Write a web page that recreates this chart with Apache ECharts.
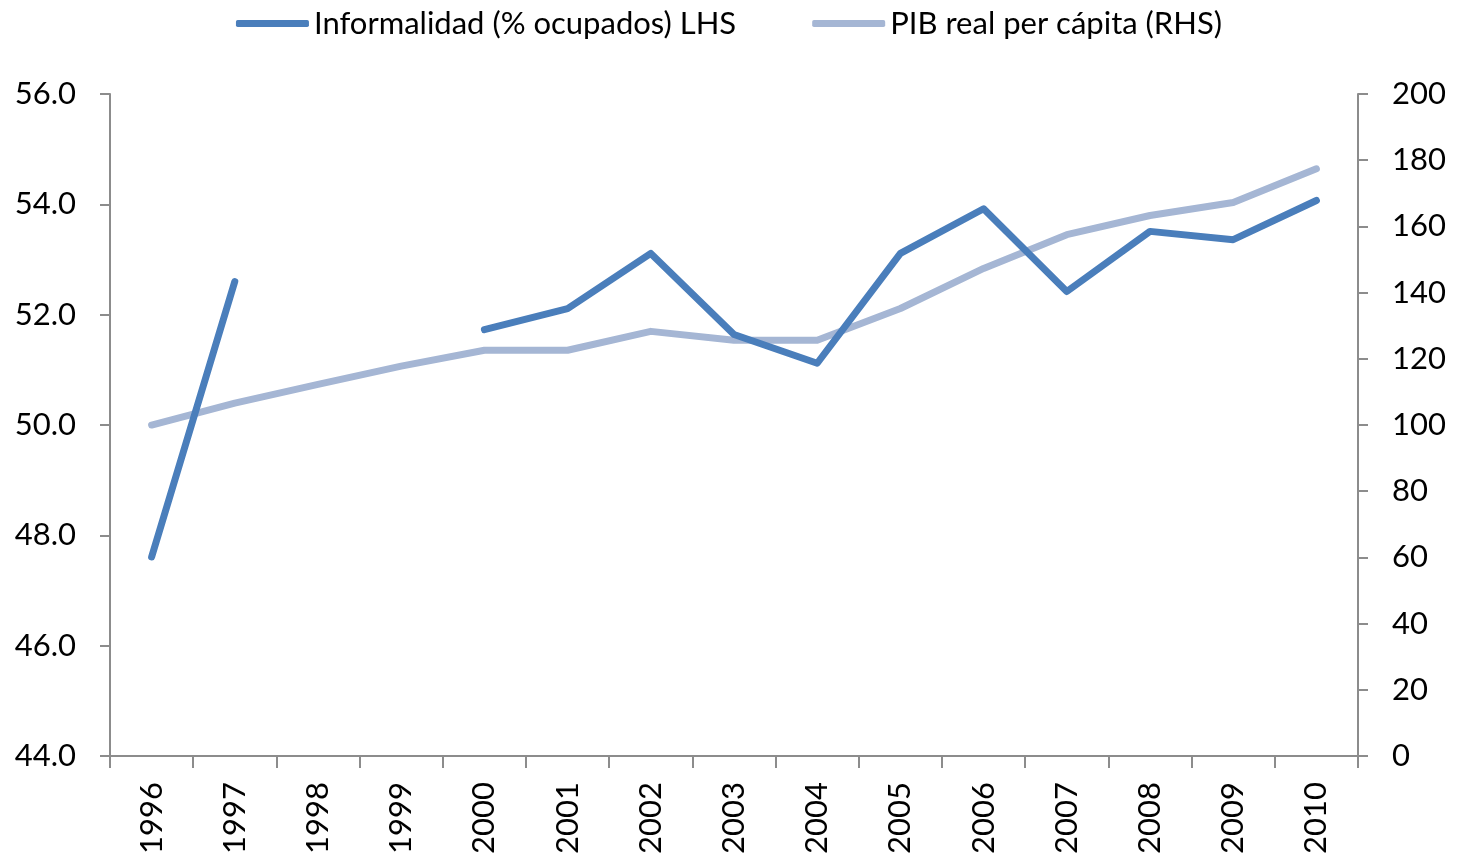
<!DOCTYPE html>
<html><head><meta charset="utf-8">
<script src="https://cdn.jsdelivr.net/npm/echarts@6/dist/echarts.min.js"></script>
<style>html,body{margin:0;padding:0;background:#fff}#c{width:1458px;height:857px}</style>
</head><body><div id="c"></div>
<script>
const years = ['1996','1997','1998','1999','2000','2001','2002','2003','2004','2005','2006','2007','2008','2009','2010'];
const informalidad = [47.61, 52.60, null, null, 51.73, 52.11, 53.11, 51.64, 51.12, 53.11, 53.92, 52.42, 53.51, 53.36, 54.07];
const pib = [100.0, 106.6, 112.3, 117.8, 122.6, 122.6, 128.3, 125.6, 125.6, 135.2, 147.3, 157.5, 163.3, 167.2, 177.4];
const seriesNames = ['Informalidad (% ocupados) LHS', 'PIB real per cápita (RHS)'];
const FONT = 'Lato, "Open Sans", sans-serif';
const axisGray = '#8c8c8c';
const chart = echarts.init(document.getElementById('c'));
chart.setOption({
  animation: false,
  textStyle: {fontFamily: FONT},
  legend: {
    top: 3, left: 'center', itemGap: 76, itemWidth: 73, itemHeight: 7,
    icon: 'roundRect',
    textStyle: {fontSize: 31, color: '#000', fontFamily: FONT},
    data: seriesNames
  },
  grid: {left: 110, right: 100, top: 94, bottom: 97, containLabel: false},
  xAxis: {
    type: 'category', data: years, boundaryGap: true,
    axisLine: {lineStyle: {color: axisGray, width: 2}},
    axisTick: {show: true, alignWithLabel: false, length: 12, lineStyle: {color: axisGray, width: 2}},
    axisLabel: {rotate: 90, fontSize: 31, color: '#000', margin: 26, fontFamily: FONT}
  },
  yAxis: [{
    type: 'value', min: 44, max: 56, interval: 2, position: 'left',
    axisLine: {show: true, lineStyle: {color: axisGray, width: 2}},
    axisTick: {show: true, length: 10, lineStyle: {color: axisGray, width: 2}},
    splitLine: {show: false},
    axisLabel: {fontSize: 31, color: '#000', margin: 34, fontFamily: FONT, formatter: v => v.toFixed(1)}
  }, {
    type: 'value', min: 0, max: 200, interval: 20, position: 'right',
    axisLine: {show: true, lineStyle: {color: axisGray, width: 2}},
    axisTick: {show: true, length: 10, lineStyle: {color: axisGray, width: 2}},
    splitLine: {show: false},
    axisLabel: {fontSize: 31, color: '#000', margin: 34, fontFamily: FONT}
  }],
  series: [{
    name: seriesNames[0], type: 'line', yAxisIndex: 0, data: informalidad,
    showSymbol: false, symbol: 'none', connectNulls: false,
    itemStyle: {color: '#4A7EBB'},
    lineStyle: {color: '#4A7EBB', width: 7, cap: 'round', join: 'round'},
    z: 3
  }, {
    name: seriesNames[1], type: 'line', yAxisIndex: 1, data: pib,
    showSymbol: false, symbol: 'none',
    itemStyle: {color: '#A5B6D4'},
    lineStyle: {color: '#A5B6D4', width: 7, cap: 'round', join: 'round'},
    z: 2
  }]
});
</script></body></html>
